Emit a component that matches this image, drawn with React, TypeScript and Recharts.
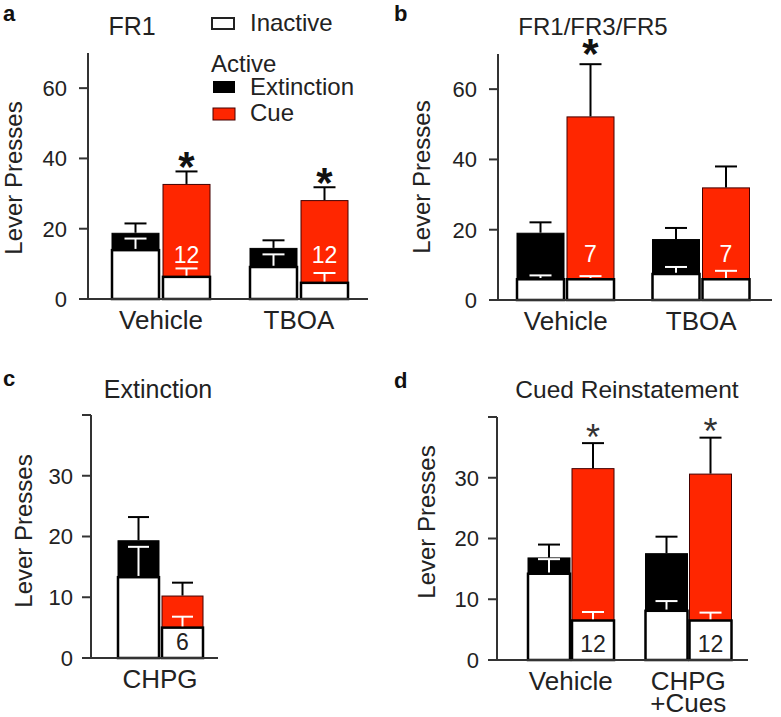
import React from 'react';
import { BarChart, Bar, XAxis, YAxis, Legend } from 'recharts';

const FONT = '"Liberation Sans", Arial, Helvetica, sans-serif';
const RED = '#ff2600';
const INK = '#222';

// ---------- Panel a: FR1 ----------
const catsA = ['Vehicle', 'TBOA'];
const extA = [18.7, 14.4];
const extSemA = [2.8, 2.3];
const extInA = [13.9, 9.1];
const extInSemA = [3.3, 3.6];
const cueA = [32.6, 28.0];
const cueSemA = [3.7, 3.8];
const cueInA = [6.3, 4.6];
const cueInSemA = [2.4, 2.8];
const sigA = [true, true];
const nA = ['12', '12'];

// ---------- Panel b: FR1/FR3/FR5 ----------
const catsB = ['Vehicle', 'TBOA'];
const extB = [19.0, 17.2];
const extSemB = [3.1, 3.3];
const extInB = [5.9, 7.4];
const extInSemB = [1.1, 2.0];
const cueB = [52.1, 31.9];
const cueSemB = [15.0, 6.1];
const cueInB = [5.9, 5.9];
const cueInSemB = [0.9, 2.4];
const sigB = [true, false];
const nB = ['7', '7'];

// ---------- Panel c: Extinction ----------
const catsC = ['CHPG'];
const extC = [19.3];
const extSemC = [3.9];
const extInC = [13.3];
const extInSemC = [5.0];
const cueC = [10.2];
const cueSemC = [2.2];
const cueInC = [5.0];
const cueInSemC = [1.8];
const sigC = [false];
const nC = ['6'];

// ---------- Panel d: Cued Reinstatement ----------
const catsD = ['Vehicle', 'CHPG\n+Cues'];
const extD = [16.8, 17.5];
const extSemD = [2.2, 2.8];
const extInD = [14.2, 8.1];
const extInSemD = [2.4, 1.6];
const cueD = [31.5, 30.6];
const cueSemD = [4.2, 6.0];
const cueInD = [6.5, 6.5];
const cueInSemD = [1.4, 1.3];
const sigD = [true, true];
const nD = ['12', '12'];

const yTicksAB = [0, 20, 40, 60];
const yTicksCD = [0, 10, 20, 30, 40];

const legendInactive = 'Inactive';
const legendHeader = 'Active';
const legendActive = ['Extinction', 'Cue'];

function buildRows(cats: string[], ext: number[], extSem: number[], extIn: number[], extInSem: number[], cue: number[], cueSem: number[], cueIn: number[], cueInSem: number[], sig: boolean[], n: string[]) {
  return cats.map((cat, i) => ({
    cat,
    ext: ext[i], extSem: extSem[i],
    extIn: extIn[i], extInSem: extInSem[i],
    cue: cue[i], cueSem: cueSem[i],
    cueIn: cueIn[i], cueInSem: cueInSem[i],
    sig: sig[i], n: n[i],
  }));
}

type Cfg = {
  rows: any[];
  left: number; top: number; width: number; height: number;
  axisX: number; plotTop: number; plotBottom: number; plotRight: number;
  domain: [number, number]; ticks: number[]; hideTop: boolean; tickMargin: number;
  padL: number; padR: number; barSize: number; barGap: number;
  yLabelX: number; yLabelY: number;
  nLabelVal: number; nLabelColor: string;
  sigFont: number; sigWeight: string; sigGap: number; sigColor: string;
  capW: number; legend?: boolean;
};

function makeShape(o: { valKey: string; semKey: string; fill: string; stroke: string; sw: number; whisker: string; sig?: boolean; nLabel?: boolean; cfg: Cfg }) {
  return (p: any) => {
    const { x, y, width, height, payload } = p;
    const v = payload[o.valKey];
    if (!v || !height) return <g />;
    const ppu = height / v;
    const cx = x + width / 2;
    const yTop = y - payload[o.semKey] * ppu;
    const base = y + height;
    const c = o.cfg;
    return (
      <g>
        <rect x={x} y={y} width={width} height={height} fill={o.fill} stroke={o.stroke} strokeWidth={o.sw} />
        <line x1={cx} x2={cx} y1={y - o.sw / 2} y2={yTop} stroke={o.whisker} strokeWidth={2} />
        <line x1={cx - c.capW / 2} x2={cx + c.capW / 2} y1={yTop} y2={yTop} stroke={o.whisker} strokeWidth={2} />
        {o.sig && payload.sig ? (
          <text x={cx} y={yTop - c.sigGap + c.sigFont * 0.57} textAnchor="middle" fontSize={c.sigFont} fontWeight={c.sigWeight} fill={c.sigColor} fontFamily={FONT}>*</text>
        ) : null}
        {o.nLabel ? (
          <text x={cx} y={base - c.nLabelVal * ppu} textAnchor="middle" fontSize={23} fill={c.nLabelColor} fontFamily={FONT}>{payload.n}</text>
        ) : null}
      </g>
    );
  };
}

const CatTick = (props: any) => {
  const { x, y, payload } = props;
  const lines = String(payload.value).split('\n');
  return (
    <text x={x} y={y} textAnchor="middle" fontSize={26} fill={INK} fontFamily={FONT}>
      {lines.map((l, i) => (
        <tspan key={i} x={x} dy={i === 0 ? 30 : 22}>{l}</tspan>
      ))}
    </text>
  );
};

const renderLegend = () => (
  <svg width={390} height={130} style={{ display: 'block' }}>
    <rect x={212} y={18} width={22} height={11} fill="#fff" stroke={INK} strokeWidth={2} />
    <text x={250} y={31} fontSize={24} fill={INK} fontFamily={FONT}>{legendInactive}</text>
    <text x={211} y={72} fontSize={24} fill={INK} fontFamily={FONT}>{legendHeader}</text>
    <rect x={213} y={81} width={22} height={12} fill="#000" />
    <text x={250} y={95} fontSize={24} fill={INK} fontFamily={FONT}>{legendActive[0]}</text>
    <rect x={213} y={108} width={22} height={12} fill={RED} stroke="#400" strokeWidth={1} />
    <text x={250} y={121} fontSize={24} fill={INK} fontFamily={FONT}>{legendActive[1]}</text>
  </svg>
);

function Panel({ cfg }: { cfg: Cfg }) {
  const axisStroke = { stroke: '#333', strokeWidth: 2 };
  const extShape = makeShape({ valKey: 'ext', semKey: 'extSem', fill: '#000', stroke: '#000', sw: 1, whisker: '#000', cfg });
  const cueShape = makeShape({ valKey: 'cue', semKey: 'cueSem', fill: RED, stroke: '#400', sw: 1, whisker: '#000', sig: true, cfg });
  const extInShape = makeShape({ valKey: 'extIn', semKey: 'extInSem', fill: '#fff', stroke: '#000', sw: 2.5, whisker: '#fff', cfg });
  const cueInShape = makeShape({ valKey: 'cueIn', semKey: 'cueInSem', fill: '#fff', stroke: '#000', sw: 2.5, whisker: '#fff', nLabel: true, cfg });
  const yLabel = () => (
    <text x={cfg.yLabelX} y={cfg.yLabelY} transform={`rotate(-90 ${cfg.yLabelX} ${cfg.yLabelY})`} textAnchor="middle" fontSize={24} fill={INK} fontFamily={FONT}>Lever Presses</text>
  );
  return (
    <div style={{ position: 'absolute', left: cfg.left, top: cfg.top }}>
      <BarChart
        width={cfg.width}
        height={cfg.height}
        data={cfg.rows}
        margin={{ top: cfg.plotTop, right: cfg.width - cfg.plotRight, bottom: cfg.height - cfg.plotBottom - 30, left: 0 }}
        barSize={cfg.barSize}
        barGap={cfg.barGap}
      >
        <XAxis xAxisId="main" dataKey="cat" type="category" height={30} interval={0} tickSize={0} tickMargin={0} tickLine={false} axisLine={axisStroke} tick={<CatTick />} padding={{ left: cfg.padL, right: cfg.padR }} />
        <XAxis xAxisId="inact" dataKey="cat" type="category" hide height={0} padding={{ left: cfg.padL, right: cfg.padR }} />
        <YAxis
          type="number"
          domain={cfg.domain}
          ticks={cfg.ticks}
          interval={0}
          width={cfg.axisX}
          tickSize={9}
          tickMargin={cfg.tickMargin}
          axisLine={axisStroke}
          tickLine={axisStroke}
          tick={{ fontSize: 22, fill: INK, fontFamily: FONT }}
          tickFormatter={(v: number) => (cfg.hideTop && v === cfg.domain[1] ? '' : String(v))}
          label={yLabel}
        />
        <Bar xAxisId="main" dataKey="ext" shape={extShape} isAnimationActive={false} />
        <Bar xAxisId="main" dataKey="cue" shape={cueShape} isAnimationActive={false} />
        <Bar xAxisId="inact" dataKey="extIn" shape={extInShape} isAnimationActive={false} />
        <Bar xAxisId="inact" dataKey="cueIn" shape={cueInShape} isAnimationActive={false} />
        {cfg.legend ? (
          <Legend layout="vertical" align="center" verticalAlign="middle" content={renderLegend} wrapperStyle={{ left: 0, top: 0, width: 390, height: 130 }} />
        ) : null}
      </BarChart>
    </div>
  );
}

const panels: Cfg[] = [
  {
    rows: buildRows(catsA, extA, extSemA, extInA, extInSemA, cueA, cueSemA, cueInA, cueInSemA, sigA, nA),
    left: 0, top: 0, width: 390, height: 340,
    axisX: 88, plotTop: 53, plotBottom: 299, plotRight: 368,
    domain: [0, 70], ticks: yTicksAB, hideTop: false, tickMargin: 12,
    padL: 4, padR: 0, barSize: 47, barGap: 4,
    yLabelX: 22, yLabelY: 178, nLabelVal: 10.2, nLabelColor: '#fff',
    sigFont: 42, sigWeight: 'bold', sigGap: 14, sigColor: '#111', capW: 22, legend: true,
  },
  {
    rows: buildRows(catsB, extB, extSemB, extInB, extInSemB, cueB, cueSemB, cueInB, cueInSemB, sigB, nB),
    left: 390, top: 0, width: 391, height: 340,
    axisX: 108, plotTop: 54, plotBottom: 300, plotRight: 382,
    domain: [0, 70], ticks: yTicksAB, hideTop: false, tickMargin: 12,
    padL: 0, padR: 3, barSize: 47, barGap: 3,
    yLabelX: 40, yLabelY: 177, nLabelVal: 10.8, nLabelColor: '#fff',
    sigFont: 42, sigWeight: 'bold', sigGap: 20, sigColor: '#111', capW: 22,
  },
  {
    rows: buildRows(catsC, extC, extSemC, extInC, extInSemC, cueC, cueSemC, cueInC, cueInSemC, sigC, nC),
    left: 0, top: 360, width: 390, height: 357,
    axisX: 91, plotTop: 55, plotBottom: 298, plotRight: 218,
    domain: [0, 40], ticks: yTicksCD, hideTop: true, tickMargin: 9,
    padL: 11, padR: 0, barSize: 41, barGap: 3,
    yLabelX: 32, yLabelY: 171, nLabelVal: 1.3, nLabelColor: INK,
    sigFont: 36, sigWeight: 'normal', sigGap: 14, sigColor: '#333', capW: 21,
  },
  {
    rows: buildRows(catsD, extD, extSemD, extInD, extInSemD, cueD, cueSemD, cueInD, cueInSemD, sigD, nD),
    left: 390, top: 360, width: 391, height: 357,
    axisX: 107, plotTop: 57, plotBottom: 300, plotRight: 358,
    domain: [0, 40], ticks: yTicksCD, hideTop: true, tickMargin: 9,
    padL: 15, padR: 1, barSize: 42, barGap: 2,
    yLabelX: 45, yLabelY: 162, nLabelVal: 1.3, nLabelColor: INK,
    sigFont: 36, sigWeight: 'normal', sigGap: 14, sigColor: '#333', capW: 22,
  },
];

const titles = [
  { letter: 'a', lx: 3, ly: 21, title: 'FR1', tx: 132, ty: 35, size: 25 },
  { letter: 'b', lx: 394, ly: 21, title: 'FR1/FR3/FR5', tx: 593, ty: 35, size: 24 },
  { letter: 'c', lx: 3, ly: 386, title: 'Extinction', tx: 158, ty: 398, size: 25 },
  { letter: 'd', lx: 394, ly: 388, title: 'Cued Reinstatement', tx: 627, ty: 398, size: 24.5 },
];

export default function App() {
  return (
    <div style={{ position: 'absolute', left: 0, top: 0, width: 781, height: 717, background: '#fff', fontFamily: FONT, overflow: 'hidden' }}>
      {panels.map((p, i) => (
        <Panel key={i} cfg={p} />
      ))}
      <svg width={781} height={717} style={{ position: 'absolute', left: 0, top: 0, pointerEvents: 'none' }}>
        {titles.map((t) => (
          <g key={t.letter}>
            <text x={t.lx} y={t.ly} fontSize={22} fontWeight="bold" fill="#111" fontFamily={FONT}>{t.letter}</text>
            <text x={t.tx} y={t.ty} textAnchor="middle" fontSize={t.size} fill={INK} fontFamily={FONT}>{t.title}</text>
          </g>
        ))}
      </svg>
    </div>
  );
}
